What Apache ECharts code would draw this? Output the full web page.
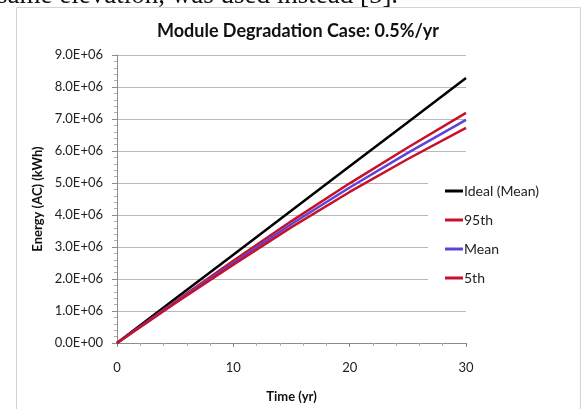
<!DOCTYPE html>
<html>
<head>
<meta charset="utf-8">
<script src="https://cdn.jsdelivr.net/npm/echarts@6/dist/echarts.min.js"></script>
<style>
  html, body { margin: 0; padding: 0; background: #fff; }
  #chart { width: 582px; height: 409px; }
</style>
</head>
<body>
<div id="chart"></div>
<script>
  // time in years
  var years = [0, 5, 10, 15, 20, 25, 30];
  // cumulative energy (kWh)
  var idealMean = [0, 1380000, 2760000, 4140000, 5520000, 6900000, 8280000];
  var p95 = [0, 1300000, 2570000, 3810000, 4990000, 6110000, 7190000];
  var mean = [0, 1270000, 2510000, 3720000, 4860000, 5940000, 6970000];
  var p5 = [0, 1240000, 2450000, 3620000, 4720000, 5750000, 6720000];

  var font = 'Lato, "Open Sans", sans-serif';

  function pairs(vals) {
    return years.map(function (y, i) { return [y, vals[i]]; });
  }

  function lineSeries(name, vals, color) {
    return {
      name: name,
      type: 'line',
      data: pairs(vals),
      showSymbol: false,
      lineStyle: { color: color, width: 2.5 },
      itemStyle: { color: color }
    };
  }

  var chart = echarts.init(document.getElementById('chart'));
  chart.setOption({
    animation: false,
    backgroundColor: '#fff',
    title: {
      text: 'Module Degradation Case: 0.5%/yr',
      left: 293,
      top: 17,
      textAlign: 'center',
      textStyle: { fontFamily: font, fontWeight: 'bold', fontSize: 18, color: '#111' }
    },
    graphic: [
      {
        type: 'text',
        left: -3,
        top: -18,
        style: {
          text: 'same elevation, was used instead [5].',
          font: '27px "Liberation Serif", "DejaVu Serif", serif',
          fill: '#111'
        }
      },
      {
        type: 'rect',
        shape: { x: 16.5, y: 7.5, width: 564, height: 420 },
        style: { fill: 'none', stroke: '#d4d4d4', lineWidth: 1 },
        z: -1
      }
    ],
    legend: {
      orient: 'vertical',
      left: 428,
      top: 174,
      padding: [10, 40, 10, 17],
      backgroundColor: '#fff',
      itemWidth: 18,
      itemHeight: 3,
      itemGap: 15,
      icon: 'rect',
      textStyle: { fontFamily: font, fontSize: 14, color: '#222', padding: [0, 0, 0, -4] },
      data: ['Ideal (Mean)', '95th', 'Mean', '5th']
    },
    grid: { left: 117, right: 116, top: 55, bottom: 66 },
    xAxis: {
      type: 'value',
      min: 0,
      max: 30,
      interval: 10,
      name: 'Time (yr)',
      nameLocation: 'middle',
      nameGap: 47,
      nameTextStyle: { fontFamily: font, fontWeight: 'bold', fontSize: 13, color: '#111' },
      axisLine: { lineStyle: { color: '#8c8c8c' } },
      axisTick: { show: true, length: 4, inside: false, lineStyle: { color: '#8c8c8c' } },
      minorTick: { show: true, splitNumber: 5, length: 3, lineStyle: { color: '#b0b0b0' } },
      splitLine: { show: false },
      axisLabel: { fontFamily: font, fontSize: 13, color: '#222', margin: 18 }
    },
    yAxis: {
      type: 'value',
      min: 0,
      max: 9000000,
      interval: 1000000,
      name: 'Energy (AC) (kWh)',
      nameLocation: 'middle',
      nameGap: 71,
      nameTextStyle: { fontFamily: font, fontWeight: 'bold', fontSize: 13, color: '#111' },
      axisLine: { show: true, lineStyle: { color: '#8c8c8c' } },
      axisTick: { show: true, length: 5, lineStyle: { color: '#8c8c8c' } },
      minorTick: { show: true, splitNumber: 5, length: 3, lineStyle: { color: '#b0b0b0' } },
      splitLine: { show: true, lineStyle: { color: '#b8b8b8', width: 1 } },
      axisLabel: {
        fontFamily: font,
        fontSize: 13,
        color: '#222',
        margin: 14,
        formatter: function (v) {
          if (v === 0) return '0.0E+00';
          return (v / 1e6).toFixed(1) + 'E+06';
        }
      }
    },
    series: [
      lineSeries('Ideal (Mean)', idealMean, '#000000'),
      lineSeries('95th', p95, '#c8102a'),
      lineSeries('Mean', mean, '#5a45d8'),
      lineSeries('5th', p5, '#c8102a')
    ]
  });
</script>
</body>
</html>
